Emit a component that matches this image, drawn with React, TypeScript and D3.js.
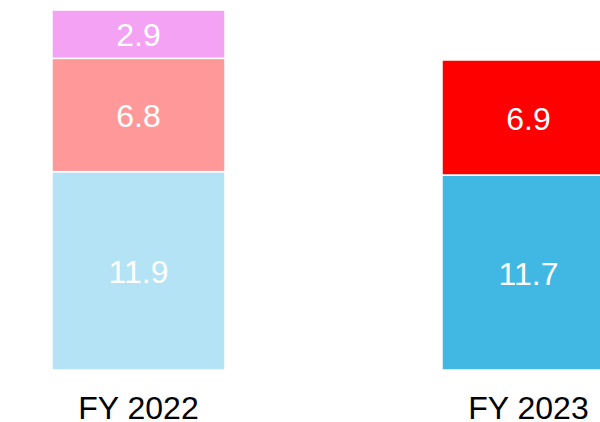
import React from "react";
import * as d3 from "d3";

const categories = ["FY 2022", "FY 2023"];
const seriesNames = ["Segment A", "Segment B", "Segment C"];
const segmentA = [11.9, 11.7];
const segmentB = [6.8, 6.9];
const segmentC = [2.9, 0];
const colorsA = ["#b3e3f4", "#41b8e4"];
const colorsB = ["#ff9999", "#ff0000"];
const colorsC = ["#f4a2f4", "#f4a2f4"];

const W = 600;
const H = 422;

export default function App() {
  const values = [segmentA, segmentB, segmentC];
  const colors = [colorsA, colorsB, colorsC];
  const x = d3
    .scaleBand<string>()
    .domain(categories)
    .range([52, 52 + 390 + 173])
    .paddingInner(217 / 390)
    .paddingOuter(0);
  const y = d3.scaleLinear().domain([0, 21.6]).range([370, 10]);

  const rows = categories.map((c, i) => {
    const obj: any = { cat: c };
    seriesNames.forEach((s, k) => (obj[s] = values[k][i]));
    return obj;
  });
  const stack = d3.stack<any>().keys(seriesNames)(rows);

  return (
    <svg
      width={W}
      height={H}
      style={{ position: "absolute", left: 0, top: 0, fontFamily: "'Liberation Sans', Arial, sans-serif" }}
    >
      {stack.map((layer, k) =>
        layer.map((d, i) => {
          const v = d[1] - d[0];
          if (v <= 0) return null;
          const x0 = x(categories[i])!;
          const y0 = y(d[1]);
          const h = y(d[0]) - y(d[1]);
          return (
            <g key={`${k}-${i}`}>
              <rect
                x={x0}
                y={y0}
                width={x.bandwidth()}
                height={h}
                fill={colors[k][i]}
                stroke="#fff"
                strokeWidth={1.5}
              />
              <text
                x={x0 + x.bandwidth() / 2}
                y={y0 + h / 2 + 12}
                textAnchor="middle"
                fill="#fff"
                fontSize={32}
              >
                {v.toFixed(1)}
              </text>
            </g>
          );
        })
      )}
      {categories.map((c) => (
        <text
          key={c}
          x={x(c)! + x.bandwidth() / 2}
          y={419}
          textAnchor="middle"
          fill="#000"
          fontSize={32}
        >
          {c}
        </text>
      ))}
    </svg>
  );
}
